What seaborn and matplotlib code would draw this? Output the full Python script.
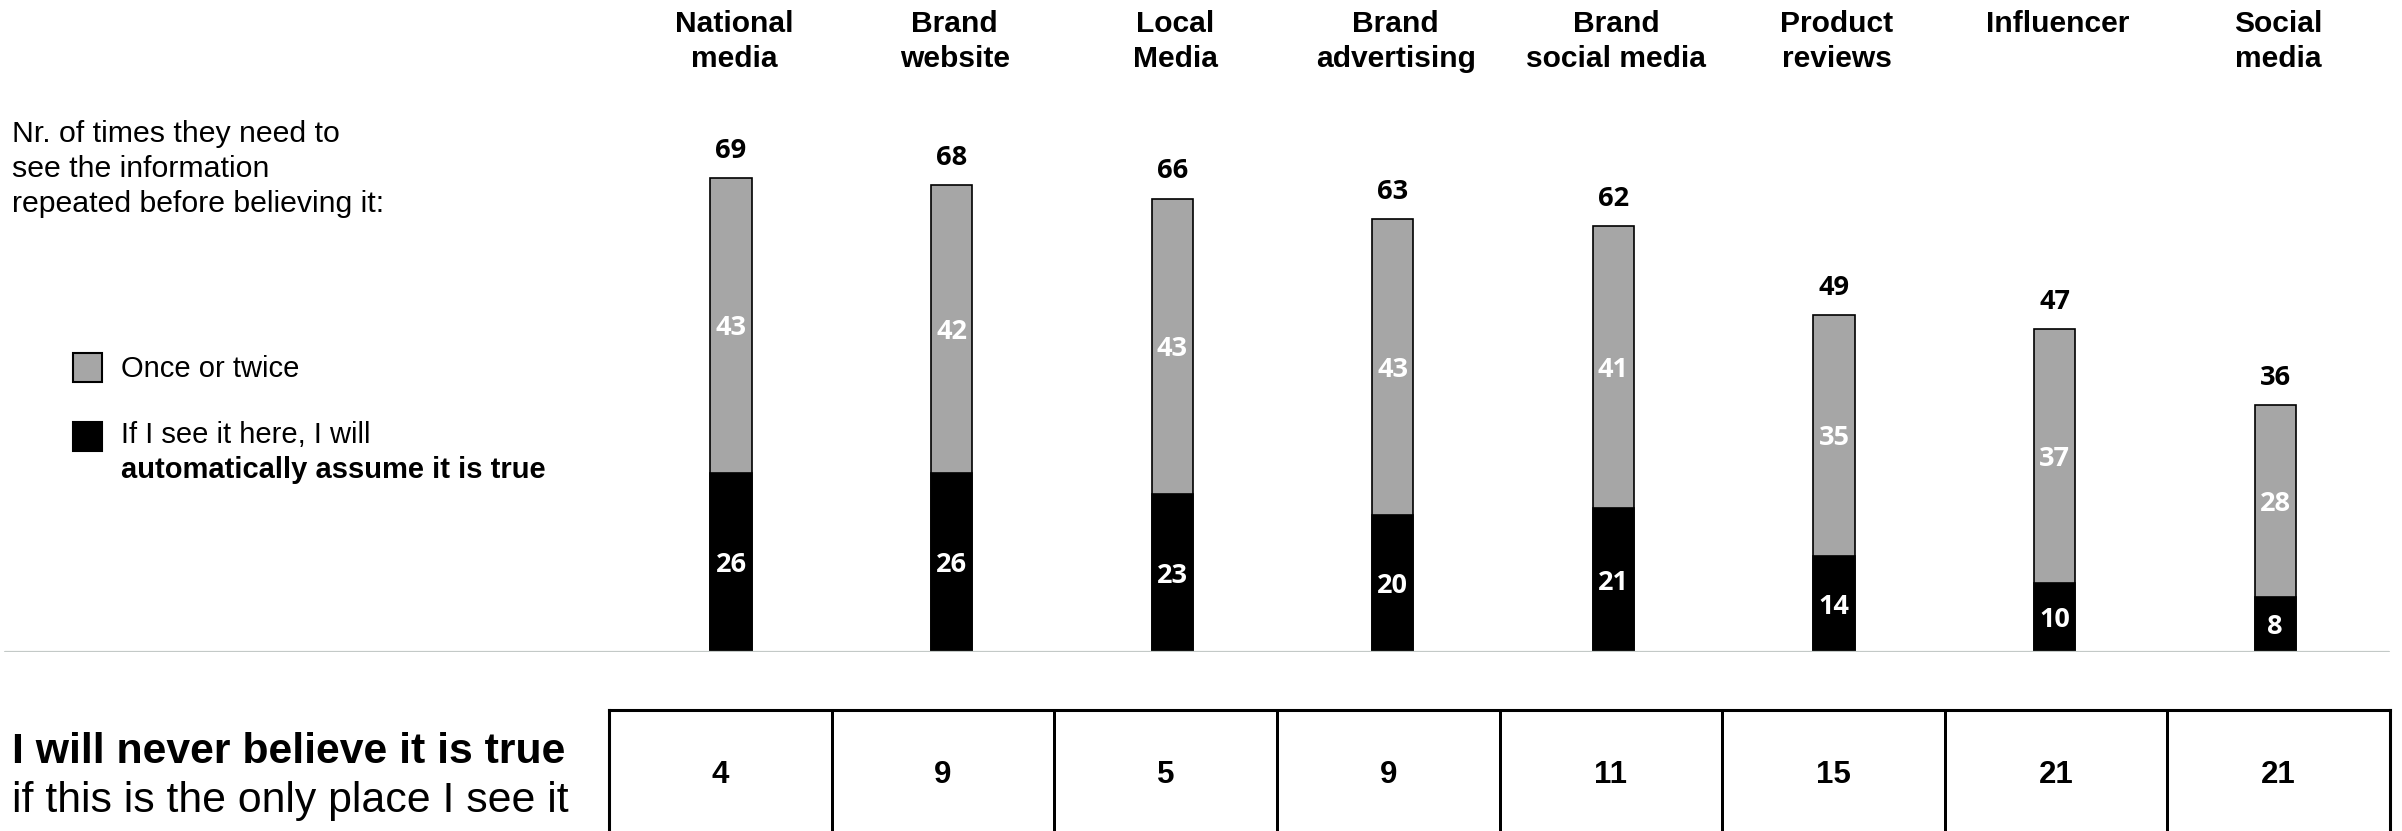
import numpy as np
import pandas as pd
import matplotlib
matplotlib.use("Agg")
import matplotlib.pyplot as plt
from matplotlib.colors import ListedColormap
from matplotlib.patches import Rectangle
import seaborn as sns

# --- data -------------------------------------------------------------
sources = ["National\nmedia", "Brand\nwebsite", "Local\nMedia", "Brand\nadvertising",
           "Brand\nsocial media", "Product\nreviews", "Influencer", "Social\nmedia"]
once_or_twice = [43, 42, 43, 43, 41, 35, 37, 28]
auto_true = [26, 26, 23, 20, 21, 14, 10, 8]
never_true = [4, 9, 5, 9, 11, 15, 21, 21]

series_labels = ["Once or twice", "If I see it here, I will", "automatically assume it is true"]
intro_lines = ["Nr. of times they need to", "see the information", "repeated before believing it:"]
never_lines = ["I will never believe it is true", "if this is the only place I see it"]

totals = [a + b for a, b in zip(once_or_twice, auto_true)]
df = pd.DataFrame({"source": sources, "once": once_or_twice,
                   "auto": auto_true, "total": totals})

# --- styling ----------------------------------------------------------
sns.set_theme(style="white")
plt.rcParams["font.family"] = ["Liberation Sans", "DejaVu Sans"]
plt.rcParams["text.color"] = "black"
GREY = "#a6a6a6"
NUM_FONT = ["Open Sans", "DejaVu Sans"]

W, H = 2402, 831
fig = plt.figure(figsize=(W / 100, H / 100), dpi=100)


def fx(px):
    return px / W


def fy(py):
    return 1 - py / H


# --- stacked bars -----------------------------------------------------
base_px = 652          # pixel row of the zero line
unit_px = 6.87         # pixels per percentage point
x0_px, step_px = 731, 220.6

ax = fig.add_axes([0, fy(base_px), 1, base_px / H])
ax.patch.set_alpha(0)
sns.barplot(data=df, x="source", y="total", order=sources, color=GREY,
            edgecolor="black", linewidth=1.2, width=0.186, saturation=1, ax=ax, zorder=2)
sns.barplot(data=df, x="source", y="auto", order=sources, color="black",
            edgecolor="black", linewidth=1.2, width=0.186, saturation=1, ax=ax, zorder=3)
ax.set_xlim(-x0_px / step_px, (W - x0_px) / step_px)
ax.set_ylim(0, base_px / unit_px)
ax.axis("off")

ax.axhline(0, xmin=fx(5), xmax=fx(2389), color="#c3c9c7", lw=1.6, zorder=6)

num_kw = dict(ha="center", va="baseline", fontsize=19.5, fontweight="bold",
              family=NUM_FONT, textcoords="offset points")
for i, row in df.iterrows():
    # total above the bar
    ax.annotate(f"{row.total}", (i, row.total), xytext=(0, 14.5), color="black", **num_kw)
    # segment values
    ax.annotate(f"{row.once}", (i, row.auto + row.once / 2), xytext=(0, -7),
                color="white", zorder=7, **num_kw)
    ax.annotate(f"{row.auto}", (i, row.auto / 2), xytext=(0, -7),
                color="white", zorder=7, **num_kw)
    # category header
    for k, line in enumerate(row.source.split("\n")):
        fig.text(fx(x0_px + step_px * i + 3), fy(31.7 + 35 * k), line, ha="center",
                 va="baseline", fontsize=21.6, fontweight="bold")

# --- left-hand text and legend -----------------------------------------
for k, line in enumerate(intro_lines):
    fig.text(fx(12), fy(142 + 35 * k), line, ha="left", va="baseline", fontsize=21.8)

fig.add_artist(Rectangle((fx(73), fy(382)), 29 / W, 29 / H, transform=fig.transFigure,
                         facecolor=GREY, edgecolor="black", lw=1.5))
fig.add_artist(Rectangle((fx(73), fy(451)), 29 / W, 29 / H, transform=fig.transFigure,
                         facecolor="black", edgecolor="black", lw=1.5))
fig.text(fx(121), fy(377), series_labels[0], ha="left", va="baseline", fontsize=21.0)
fig.text(fx(121), fy(443), series_labels[1], ha="left", va="baseline", fontsize=21.0)
fig.text(fx(121), fy(478), series_labels[2], ha="left", va="baseline", fontsize=21.0,
         fontweight="bold")

fig.text(fx(12), fy(763), never_lines[0], ha="left", va="baseline", fontsize=30.8,
         fontweight="bold")
fig.text(fx(12), fy(812), never_lines[1], ha="left", va="baseline", fontsize=30.8)

# --- "never believe" row as a one-line table -----------------------------
tab_top, tab_bottom = 710, 840
tab = fig.add_axes([fx(609), fy(tab_bottom), (2390 - 609) / W, (tab_bottom - tab_top) / H])
sns.heatmap(np.array([never_true]), annot=True, fmt="d", cmap=ListedColormap(["white"]),
            cbar=False, linewidths=2, linecolor="black", xticklabels=False,
            yticklabels=False, ax=tab,
            annot_kws={"fontsize": 22.5, "fontweight": "bold", "color": "black"})
for spine in tab.spines.values():
    spine.set_visible(True)
    spine.set_linewidth(2.2)
    spine.set_color("black")

fig.savefig("out.png", dpi=100, facecolor="white")
